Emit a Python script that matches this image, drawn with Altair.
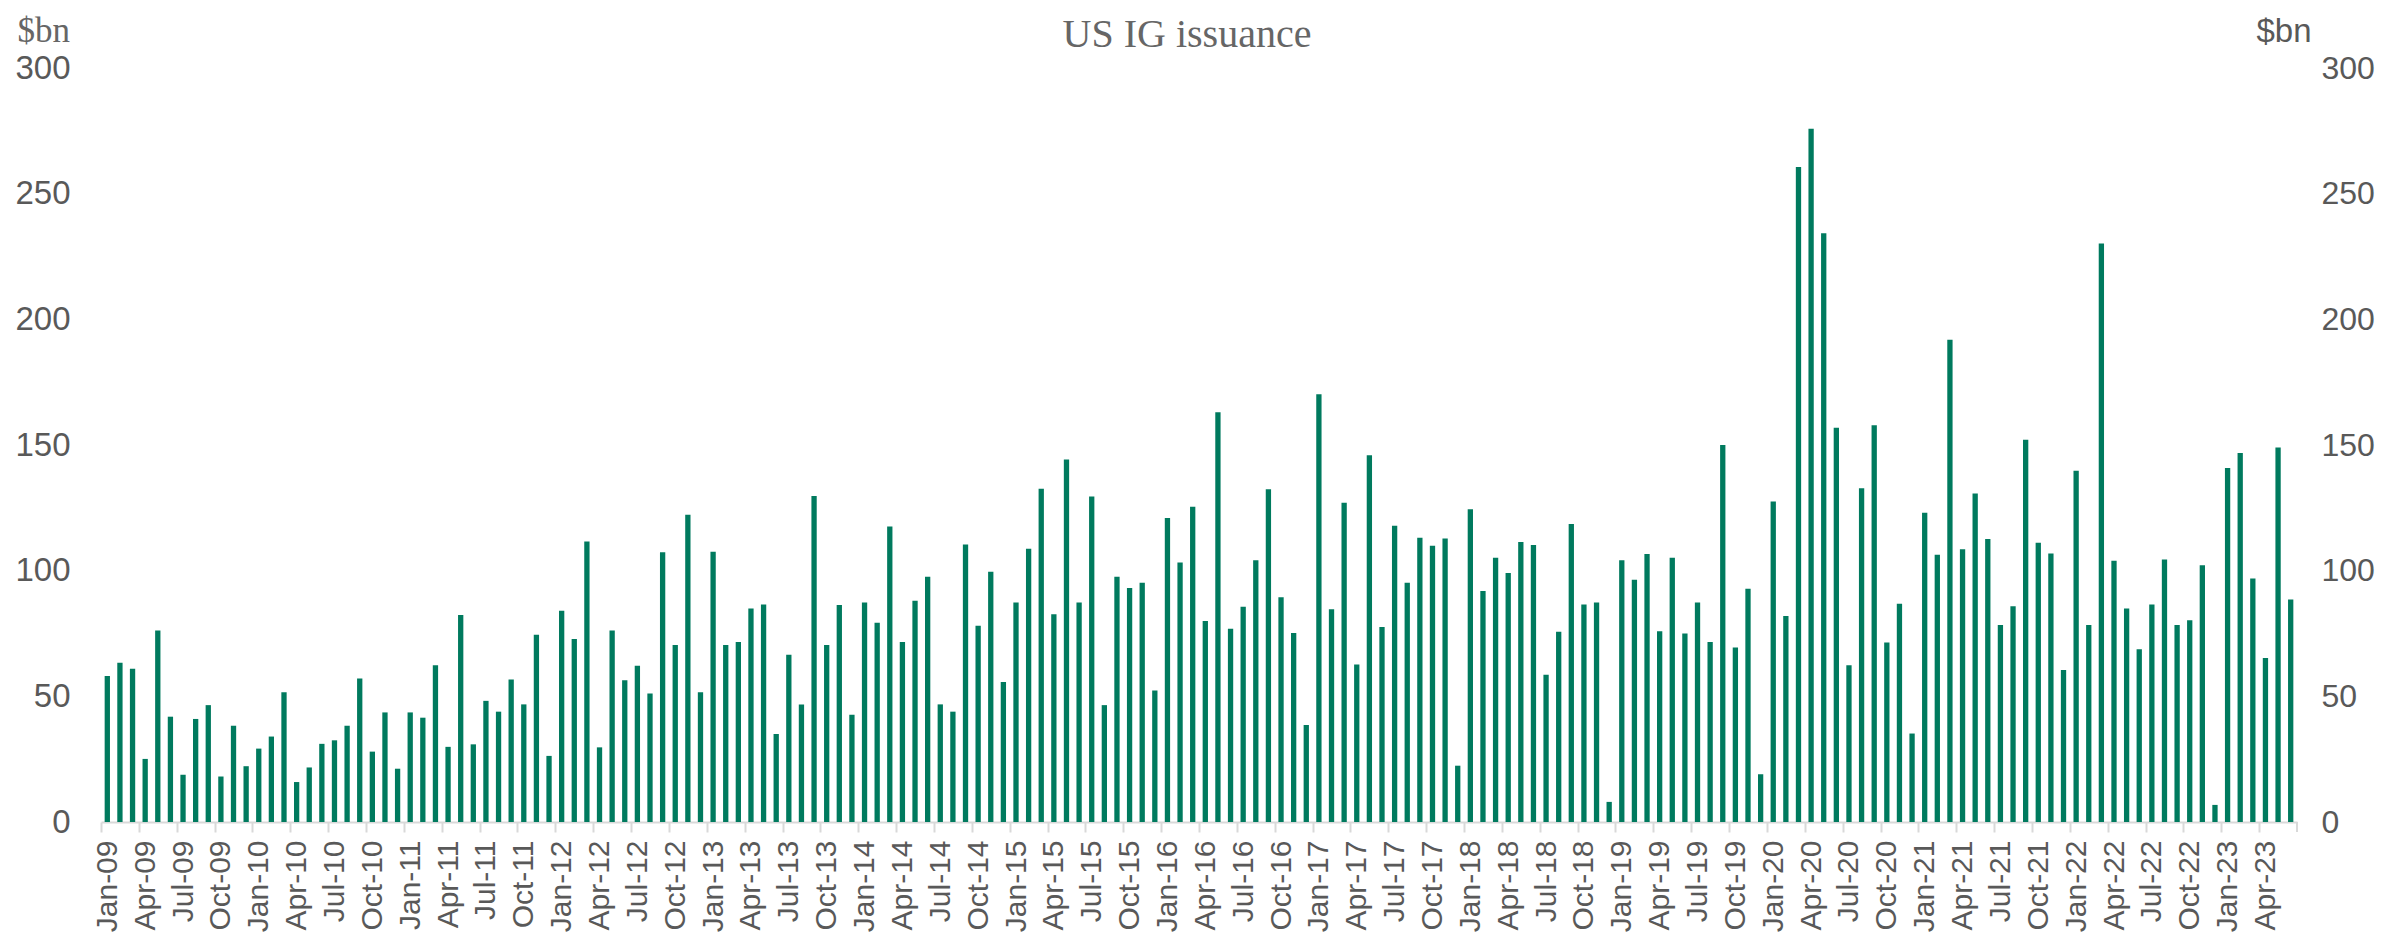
import altair as alt
import pandas as pd

# ---- data (monthly US IG issuance, $bn) ----
MONTH_NAMES = ["Jan", "Feb", "Mar", "Apr", "May", "Jun",
               "Jul", "Aug", "Sep", "Oct", "Nov", "Dec"]
START_YEAR = 2009

v2009 = [58.1, 63.4, 61.0, 25.1, 76.2, 41.9, 18.8, 41.0, 46.5, 18.1, 38.3, 22.2]
v2010 = [29.2, 34.0, 51.6, 15.9, 21.7, 31.1, 32.5, 38.3, 57.1, 28.0, 43.6, 21.2]
v2011 = [43.6, 41.5, 62.4, 29.9, 82.4, 30.9, 48.2, 43.9, 56.7, 46.8, 74.5, 26.3]
v2012 = [84.1, 72.8, 111.6, 29.7, 76.2, 56.4, 62.2, 51.1, 107.3, 70.4, 122.2, 51.6]
v2013 = [107.5, 70.4, 71.6, 84.9, 86.5, 35.0, 66.5, 46.8, 129.7, 70.4, 86.3, 42.7]
v2014 = [87.3, 79.3, 117.6, 71.6, 88.0, 97.6, 46.8, 43.9, 110.4, 78.1, 99.6, 55.7]
v2015 = [87.3, 108.7, 132.6, 82.7, 144.2, 87.3, 129.5, 46.5, 97.6, 93.1, 95.2, 52.3]
v2016 = [121.0, 103.2, 125.4, 80.0, 163.0, 76.9, 85.6, 104.1, 132.4, 89.4, 75.2, 38.6]
v2017 = [170.2, 84.6, 127.0, 62.7, 145.9, 77.6, 117.9, 95.2, 113.1, 109.9, 112.8, 22.4]
v2018 = [124.4, 91.9, 105.1, 99.1, 111.4, 110.2, 58.6, 75.7, 118.6, 86.5, 87.3, 8.0]
v2019 = [104.1, 96.4, 106.6, 75.9, 105.1, 75.0, 87.3, 71.6, 150.0, 69.4, 92.8, 19.0]
v2020 = [127.5, 82.0, 260.6, 275.8, 234.3, 156.9, 62.4, 132.8, 157.9, 71.4, 86.8, 35.2]
v2021 = [123.0, 106.3, 191.9, 108.5, 130.7, 112.6, 78.4, 85.8, 152.1, 111.1, 106.8, 60.5]
v2022 = [139.8, 78.4, 230.2, 103.9, 84.9, 68.7, 86.5, 104.4, 78.4, 80.3, 102.2, 6.8]
v2023 = [140.8, 146.8, 96.9, 65.3, 149.0, 88.5]

values = (v2009 + v2010 + v2011 + v2012 + v2013 + v2014 + v2015 + v2016
          + v2017 + v2018 + v2019 + v2020 + v2021 + v2022 + v2023)
months = [f"{MONTH_NAMES[i % 12]}-{(START_YEAR + i // 12) % 100:02d}"
          for i in range(len(values))]
tick_months = [m for m in months if m[:3] in ("Jan", "Apr", "Jul", "Oct")]
y_ticks = [0, 50, 100, 150, 200, 250, 300]

TITLE = "US IG issuance"
UNIT = "$bn"

df = pd.DataFrame({"month": months, "value": values})

# ---- style ----
GREEN = "#007A5E"
GRAY = "#595959"
SERIF_GRAY = "#666666"
AXIS_GRAY = "#D9D9D9"
W, H = 2196, 754
P_IN = 0.58
step = W / len(months)
half_gap = step * P_IN / 2

xscale = alt.Scale(domain=months, paddingInner=P_IN, paddingOuter=P_IN / 2)
yscale = alt.Scale(domain=[0, 300])

x_axis = alt.Axis(
    values=tick_months, title=None, grid=False,
    labelAngle=270, labelFont="Liberation Sans", labelFontSize=30,
    labelColor=GRAY, labelPadding=8, labelOverlap=False,
    ticks=True, tickSize=10, tickColor=AXIS_GRAY, tickWidth=2,
    bandPosition=0, tickOffset=-half_gap, labelOffset=half_gap,
    domainColor=AXIS_GRAY, domainWidth=2,
)

y_left = alt.Axis(
    orient="left", values=y_ticks, ticks=False, domain=False, grid=False,
    labelFont="Liberation Sans", labelFontSize=33, labelColor=GRAY,
    labelPadding=31,
    title=UNIT, titleAngle=0, titleX=-84, titleY=-27, titleAlign="left",
    titleBaseline="alphabetic", titleFont="Liberation Serif",
    titleFontSize=35, titleFontWeight="normal", titleColor=SERIF_GRAY,
)

y_right = alt.Axis(
    orient="right", values=y_ticks, ticks=False, domain=False, grid=False,
    labelFont="Liberation Sans", labelFontSize=32, labelColor=GRAY,
    labelPadding=24,
    title=UNIT, titleAngle=0, titleX=14, titleY=-27, titleAlign="right",
    titleBaseline="alphabetic", titleFont="Liberation Sans",
    titleFontSize=33, titleFontWeight="normal", titleColor=GRAY,
)

x_enc = alt.X("month:N", scale=xscale, axis=x_axis, sort=months)

bars = alt.Chart(df).mark_bar(color=GREEN).encode(
    x=x_enc,
    y=alt.Y("value:Q", scale=yscale, axis=y_left),
)

bars_right = alt.Chart(df).mark_bar(opacity=0).encode(
    x=x_enc,
    y=alt.Y("value:Q", scale=yscale, axis=y_right),
)

end_tick = alt.Chart(pd.DataFrame({"month": [months[-1]]})).mark_rule(
    color=AXIS_GRAY, strokeWidth=2, xOffset=half_gap
).encode(
    x=alt.X("month:N", scale=xscale, axis=x_axis, sort=months, bandPosition=1),
    y=alt.value(H), y2=alt.value(H + 10),
)

title_text = alt.Chart(pd.DataFrame({"t": [TITLE]})).mark_text(
    font="Liberation Serif", fontSize=40, color=SERIF_GRAY,
    align="center", baseline="alphabetic",
).encode(
    text="t:N", x=alt.value(1086), y=alt.value(-21),
)

chart = (
    alt.layer(bars, bars_right, end_tick, title_text)
    .resolve_scale(y="independent")
    .properties(
        width=W, height=H,
        padding={"left": 93, "top": 60, "right": 78, "bottom": 112},
        autosize=alt.AutoSizeParams(type="none"),
        background="white",
    )
    .configure_view(stroke=None)
)

chart.save("out.html", embed_options={"renderer": "svg", "actions": False})
